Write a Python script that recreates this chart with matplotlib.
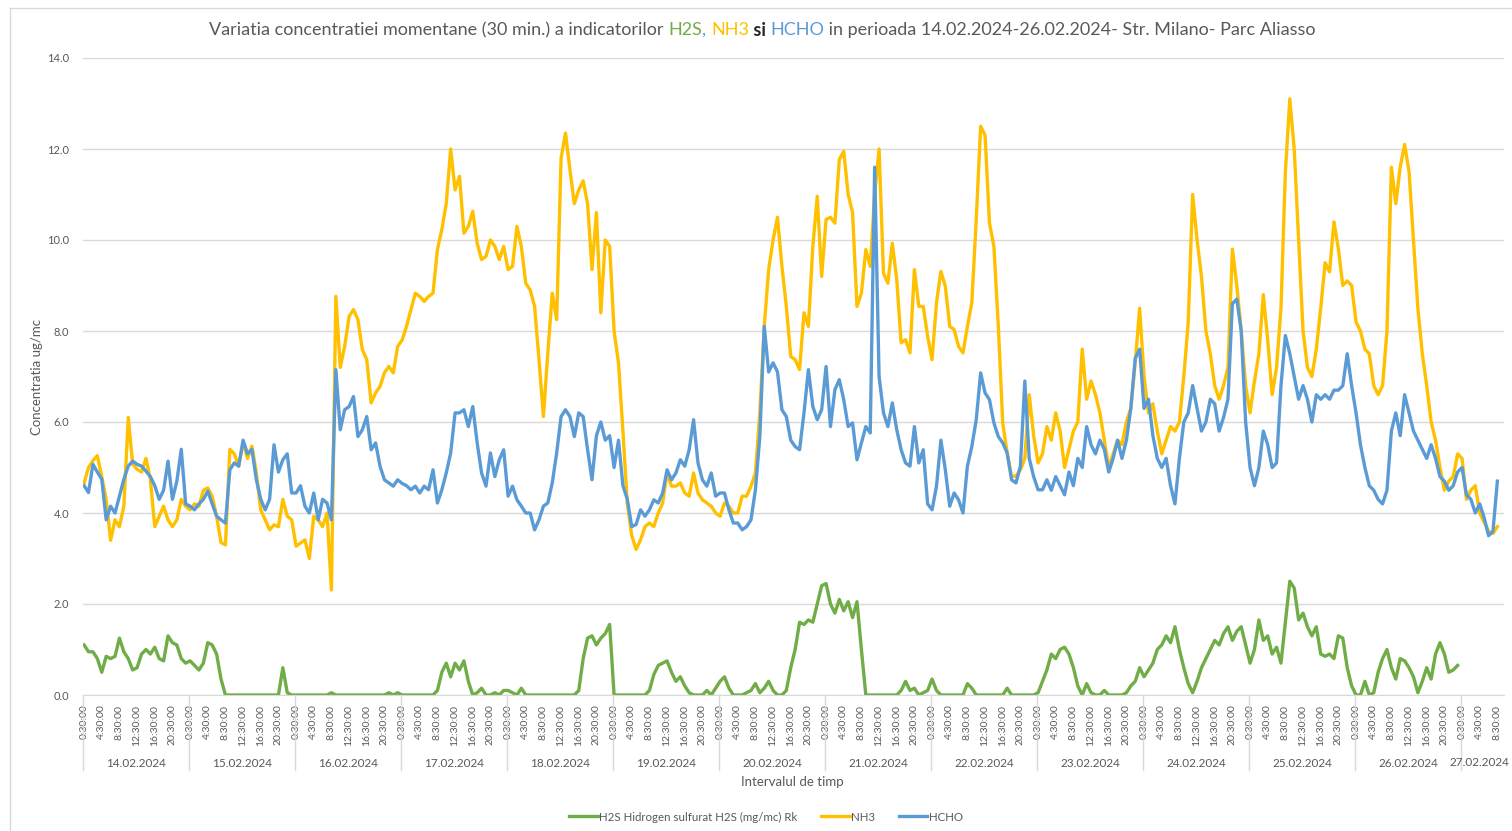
import numpy as np
import matplotlib
matplotlib.use("Agg")
import matplotlib.pyplot as plt
import matplotlib.transforms as mtransforms
from matplotlib.lines import Line2D

plt.rcParams['font.family'] = ['Lato', 'DejaVu Sans']

# --- data: hourly readings starting 14.02.2024 0:30 ---
dates = ["14.02.2024", "15.02.2024", "16.02.2024", "17.02.2024", "18.02.2024",
         "19.02.2024", "20.02.2024", "21.02.2024", "22.02.2024", "23.02.2024",
         "24.02.2024", "25.02.2024", "26.02.2024", "27.02.2024"]
time_labels = ["0:30:00", "4:30:00", "8:30:00", "12:30:00", "16:30:00", "20:30:00"]

h2s = [
    1.1, 0.95, 0.95, 0.8, 0.5, 0.85, 0.8, 0.85, 1.25, 0.95, 0.8, 0.55, 0.6, 0.9, 1.0, 0.9, 1.05, 0.8, 0.75, 1.3, 1.15, 1.1, 0.8, 0.7,
    0.75, 0.65, 0.55, 0.7, 1.15, 1.1, 0.9, 0.35, 0, 0, 0, 0, 0, 0, 0, 0, 0, 0, 0, 0, 0, 0.6, 0.05, 0,
    0, 0, 0, 0, 0, 0, 0, 0, 0.05, 0, 0, 0, 0, 0, 0, 0, 0, 0, 0, 0, 0, 0.05, 0, 0.05,
    0, 0, 0, 0, 0, 0, 0, 0, 0.1, 0.5, 0.7, 0.4, 0.7, 0.55, 0.75, 0.3, 0.0, 0.05, 0.15, 0.0, 0.0, 0.05, 0.0, 0.1,
    0.1, 0.05, 0.0, 0.15, 0, 0, 0, 0, 0, 0, 0, 0, 0, 0, 0, 0, 0.1, 0.8, 1.25, 1.3, 1.1, 1.25, 1.35, 1.55,
    0, 0, 0, 0, 0, 0, 0, 0, 0.1, 0.45, 0.65, 0.7, 0.75, 0.5, 0.3, 0.4, 0.2, 0.05, 0, 0, 0, 0.1, 0, 0.15,
    0.3, 0.4, 0.15, 0, 0, 0, 0.05, 0.1, 0.25, 0.05, 0.15, 0.3, 0.1, 0, 0, 0.1, 0.6, 1.0, 1.6, 1.55, 1.65, 1.6, 2.0, 2.4,
    2.45, 2.0, 1.8, 2.1, 1.85, 2.05, 1.7, 2.05, 1.0, 0, 0, 0, 0, 0, 0, 0, 0, 0.1, 0.3, 0.1, 0.15, 0, 0.05, 0.1,
    0.35, 0.1, 0, 0, 0, 0, 0, 0, 0.25, 0.15, 0, 0, 0, 0, 0, 0, 0, 0.15, 0, 0, 0, 0, 0, 0,
    0.05, 0.3, 0.55, 0.9, 0.8, 1.0, 1.05, 0.9, 0.6, 0.2, 0.0, 0.25, 0.05, 0, 0, 0.1, 0, 0, 0, 0, 0.05, 0.2, 0.3, 0.6,
    0.4, 0.55, 0.7, 1.0, 1.1, 1.3, 1.15, 1.5, 1.0, 0.6, 0.25, 0.05, 0.3, 0.6, 0.8, 1.0, 1.2, 1.1, 1.35, 1.5, 1.2, 1.4, 1.5, 1.1,
    0.7, 1.0, 1.65, 1.2, 1.3, 0.9, 1.05, 0.7, 1.6, 2.5, 2.35, 1.65, 1.8, 1.5, 1.3, 1.5, 0.9, 0.85, 0.9, 0.8, 1.3, 1.25, 0.6, 0.2,
    0.0, 0.0, 0.3, 0.0, 0.05, 0.5, 0.8, 1.0, 0.6, 0.35, 0.8, 0.75, 0.6, 0.4, 0.05, 0.3, 0.6, 0.35, 0.9, 1.15, 0.9, 0.5, 0.55, 0.65,
]

nh3 = [
    4.66, 5.0, 5.15, 5.26, 4.8, 4.3, 3.4, 3.85, 3.7, 4.15, 6.1, 5.07, 4.96, 4.9, 5.2, 4.74, 3.7, 3.93, 4.15, 3.85, 3.7, 3.85, 4.3, 4.15,
    4.07, 4.2, 4.15, 4.5, 4.55, 4.37, 3.93, 3.35, 3.3, 5.4, 5.3, 5.03, 5.55, 5.2, 5.47, 4.88, 4.07, 3.85, 3.63, 3.74, 3.7, 4.3, 3.93, 3.85,
    3.27, 3.34, 3.41, 3.0, 3.93, 3.85, 3.7, 4.0, 2.31, 8.76, 7.2, 7.66, 8.32, 8.47, 8.25, 7.59, 7.37, 6.42, 6.64, 6.78, 7.08, 7.22, 7.08, 7.66,
    7.8, 8.1, 8.47, 8.83, 8.76, 8.65, 8.76, 8.83, 9.79, 10.23, 10.8, 12.0, 11.1, 11.4, 10.15, 10.3, 10.63, 9.93, 9.57, 9.64, 10.0, 9.86, 9.57, 9.86,
    9.35, 9.42, 10.3, 9.86, 9.05, 8.9, 8.54, 7.37, 6.12, 7.52, 8.83, 8.25, 11.8, 12.35, 11.55, 10.8, 11.1, 11.3, 10.8, 9.35, 10.6, 8.4, 10.0, 9.86,
    8.0, 7.3, 5.8, 4.2, 3.5, 3.2, 3.41, 3.7, 3.78, 3.7, 4.0, 4.22, 4.88, 4.59, 4.59, 4.66, 4.44, 4.37, 4.88, 4.44, 4.29, 4.22, 4.15, 4.0,
    3.93, 4.22, 4.15, 4.0, 4.0, 4.37, 4.37, 4.59, 4.88, 6.2, 8.1, 9.35, 10.0, 10.5, 9.42, 8.54, 7.44, 7.37, 7.15, 8.4, 8.1, 9.86, 10.96, 9.2,
    10.45, 10.5, 10.37, 11.77, 11.95, 11.0, 10.6, 8.54, 8.83, 9.79, 9.42, 11.0, 12.0, 9.27, 9.05, 9.93, 9.13, 7.74, 7.81, 7.52, 9.35, 8.54, 8.54, 7.88,
    7.37, 8.62, 9.31, 8.98, 8.1, 8.03, 7.66, 7.52, 8.1, 8.62, 10.45, 12.5, 12.3, 10.37, 9.86, 8.1, 5.98, 5.32, 4.81, 4.81, 4.95, 5.2, 6.6, 5.7,
    5.1, 5.3, 5.9, 5.6, 6.2, 5.8, 5.0, 5.4, 5.8, 6.0, 7.6, 6.5, 6.9, 6.6, 6.2, 5.6, 5.0, 5.3, 5.6, 5.5, 6.0, 6.3, 7.3, 8.5,
    7.0, 6.2, 6.4, 5.8, 5.3, 5.6, 5.9, 5.8, 6.0, 7.0, 8.2, 11.0, 10.0, 9.2, 8.0, 7.5, 6.8, 6.5, 6.8, 7.2, 9.8, 9.0, 8.0, 6.8,
    6.2, 6.9, 7.5, 8.8, 7.8, 6.6, 7.2, 8.5, 11.5, 13.1, 12.0, 10.0, 8.0, 7.2, 7.0, 7.6, 8.5, 9.5, 9.3, 10.4, 9.8, 9.0, 9.1, 9.0,
    8.2, 8.0, 7.6, 7.5, 6.8, 6.6, 6.8, 8.0, 11.6, 10.8, 11.6, 12.1, 11.5, 10.0, 8.5, 7.5, 6.8, 6.0, 5.6, 5.0, 4.5, 4.7, 4.8, 5.3,
    5.2, 4.3, 4.5, 4.6, 4.0, 3.8, 3.6, 3.55, 3.7,
]

hcho = [
    4.6, 4.45, 5.07, 4.9, 4.74, 3.85, 4.15, 4.0, 4.37, 4.74, 5.03, 5.14, 5.07, 5.03, 4.92, 4.8, 4.6, 4.3, 4.5, 5.14, 4.3, 4.7, 5.4, 4.2,
    4.15, 4.07, 4.2, 4.3, 4.48, 4.2, 3.93, 3.85, 3.78, 4.95, 5.1, 5.03, 5.6, 5.3, 5.4, 4.73, 4.3, 4.07, 4.3, 5.5, 4.9, 5.17, 5.3, 4.44,
    4.44, 4.6, 4.15, 4.0, 4.44, 3.85, 4.3, 4.22, 3.85, 7.15, 5.83, 6.27, 6.34, 6.56, 5.68, 5.83, 6.12, 5.39, 5.54, 5.03, 4.73, 4.66, 4.59, 4.73,
    4.65, 4.6, 4.51, 4.59, 4.44, 4.59, 4.51, 4.95, 4.22, 4.51, 4.88, 5.32, 6.2, 6.2, 6.27, 5.9, 6.34, 5.54, 4.88, 4.59, 5.32, 4.8, 5.17, 5.39,
    4.37, 4.59, 4.29, 4.15, 4.0, 4.0, 3.63, 3.85, 4.15, 4.22, 4.66, 5.32, 6.12, 6.27, 6.12, 5.68, 6.2, 6.12, 5.39, 4.73, 5.7, 6.0, 5.6, 5.7,
    5.0, 5.6, 4.6, 4.3, 3.7, 3.75, 4.07, 3.93, 4.07, 4.29, 4.22, 4.44, 4.95, 4.73, 4.88, 5.17, 5.03, 5.39, 6.05, 5.1, 4.73, 4.59, 4.88, 4.37,
    4.44, 4.44, 4.07, 3.78, 3.78, 3.63, 3.7, 3.85, 4.51, 5.68, 8.1, 7.1, 7.3, 7.1, 6.27, 6.12, 5.6, 5.46, 5.39, 6.2, 7.15, 6.34, 6.05, 6.27,
    7.22, 5.9, 6.71, 6.93, 6.49, 5.9, 5.98, 5.17, 5.54, 5.9, 5.76, 11.6, 7.0, 6.2, 5.9, 6.42, 5.83, 5.39, 5.1, 5.03, 5.9, 5.1, 5.39, 4.2,
    4.07, 4.59, 5.6, 4.95, 4.15, 4.44, 4.29, 4.0, 5.03, 5.46, 6.05, 7.08, 6.64, 6.49, 5.98, 5.68, 5.54, 5.32, 4.73, 4.66, 5.03, 6.9, 5.2, 4.8,
    4.51, 4.51, 4.73, 4.5, 4.8, 4.6, 4.4, 4.9, 4.6, 5.2, 5.0, 5.9, 5.5, 5.3, 5.6, 5.4, 4.9, 5.2, 5.6, 5.2, 5.6, 6.3, 7.4, 7.6,
    6.3, 6.5, 5.7, 5.2, 5.0, 5.2, 4.6, 4.2, 5.2, 6.0, 6.2, 6.8, 6.3, 5.8, 6.0, 6.5, 6.4, 5.8, 6.1, 6.5, 8.6, 8.7, 8.0, 6.0,
    5.0, 4.6, 5.0, 5.8, 5.5, 5.0, 5.1, 6.8, 7.9, 7.5, 7.0, 6.5, 6.8, 6.5, 6.0, 6.6, 6.5, 6.6, 6.5, 6.7, 6.7, 6.8, 7.5, 6.8,
    6.2, 5.5, 5.0, 4.6, 4.5, 4.3, 4.2, 4.5, 5.8, 6.2, 5.7, 6.6, 6.2, 5.8, 5.6, 5.4, 5.2, 5.5, 5.2, 4.8, 4.7, 4.5, 4.6, 4.9,
    5.0, 4.4, 4.3, 4.0, 4.2, 3.9, 3.5, 3.6, 4.7,
]

GREEN = "#70AD47"
YELLOW = "#FFC000"
BLUE = "#5B9BD5"
GRAY = "#595959"
LIGHT = "#D9D9D9"

W, H = 1512, 831
fig = plt.figure(figsize=(W / 100, H / 100), dpi=100)
ax = fig.add_axes([83 / W, (H - 695) / H, 1421 / W, 637 / H])

ax.plot(np.arange(len(h2s)), h2s, color=GREEN, lw=2.4, label="H2S Hidrogen sulfurat H2S (mg/mc) Rk")
ax.plot(np.arange(len(nh3)), nh3, color=YELLOW, lw=2.4, label="NH3")
ax.plot(np.arange(len(hcho)), hcho, color=BLUE, lw=2.4, label="HCHO")

ax.set_xlim(-0.25, 321.5)
ax.set_ylim(0, 14)
ax.set_yticks(np.arange(0, 15, 2))
ax.set_yticklabels([f"{v:.1f}" for v in np.arange(0, 15, 2)])
ax.grid(axis="y", color=LIGHT, lw=1)
ax.set_axisbelow(True)
for s in ["top", "right", "left"]:
    ax.spines[s].set_visible(False)
ax.spines["bottom"].set_color(LIGHT)
ax.tick_params(axis="y", length=0, pad=10, labelsize=8, labelcolor=GRAY)

# time ticks (every 4 hours) and day groups
n = len(hcho)
tick_pos, tick_lab = [], []
for d in range(len(dates)):
    for k, lab in enumerate(time_labels):
        p = 24 * d + 4 * k
        if p < n:
            tick_pos.append(p)
            tick_lab.append(lab)
ax.set_xticks(tick_pos)
ax.set_xticklabels(tick_lab, rotation=90, fontsize=7.5, color=GRAY, va="top", ha="center")
ax.tick_params(axis="x", length=0, pad=7)

trans = mtransforms.blended_transform_factory(ax.transData, ax.transAxes)
for d in range(len(dates)):
    b = 24 * d - 0.25
    ax.plot([b, b], [0, -0.1177], transform=trans, color=LIGHT, lw=1, clip_on=False)
    if d < len(dates) - 1:
        ax.text(24 * d + 11.75, -0.1068, dates[d], transform=trans, ha="center", va="center",
                fontsize=8.5, color=GRAY, clip_on=False)
    else:
        # last (partial) day: keep the label inside the picture
        fig.text(1509 / W, 1 - 763 / H, dates[d], ha="right", va="center", fontsize=8.5, color=GRAY)

fig.text(792 / W, 1 - 782 / H, "Intervalul de timp", ha="center", va="center", fontsize=9.5, color=GRAY)
fig.text(37 / W, 1 - 377 / H, "Concentratia ug/mc", rotation=90, ha="center", va="center",
         fontsize=9.5, color=GRAY)

fig.legend(loc="center", bbox_to_anchor=(766 / W, 1 - 817 / H), ncol=3, frameon=False,
           fontsize=8.3, handlelength=2.5, handletextpad=0.15, columnspacing=2.0, labelcolor=GRAY)

# chart frame
fig.add_artist(Line2D([10 / W, 10 / W], [0, 1 - 8 / H], transform=fig.transFigure, color=LIGHT, lw=1))
fig.add_artist(Line2D([10 / W, 1], [1 - 8 / H, 1 - 8 / H], transform=fig.transFigure, color=LIGHT, lw=1))

# multi-coloured title
pieces = [
    ("Variatia concentratiei momentane (30 min.) a indicatorilor ", GRAY, "normal"),
    ("H2S", GREEN, "normal"),
    (", ", BLUE, "normal"),
    ("NH3", YELLOW, "normal"),
    (" si ", "#262626", "bold"),
    ("HCHO", BLUE, "normal"),
    (" in perioada 14.02.2024-26.02.2024- Str. Milano- Parc Aliasso", GRAY, "normal"),
]
renderer = fig.canvas.get_renderer()
texts = []
size = 12.5
for s, col, wt in pieces:
    texts.append(fig.text(0, 1 - 30 / H, s, color=col, fontsize=size, fontweight=wt, va="center", ha="left"))
widths = [t.get_window_extent(renderer).width for t in texts]
scale = 1105 / sum(widths)
for t in texts:
    t.set_fontsize(size * scale)
widths = [t.get_window_extent(renderer).width for t in texts]
x = 762.5 - sum(widths) / 2
for t, w in zip(texts, widths):
    t.set_x(x / W)
    x += w

fig.savefig("out.png", dpi=100)
